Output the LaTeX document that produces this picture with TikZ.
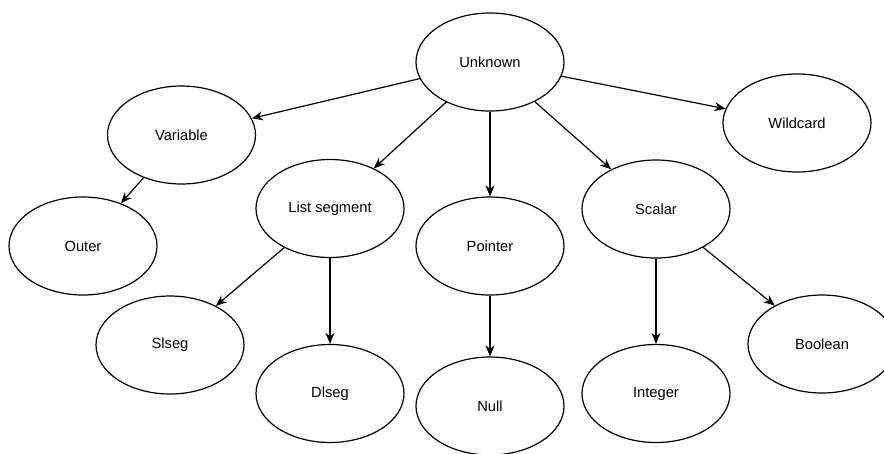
\documentclass[tikz,border=0pt]{standalone}
\usepackage{fontspec}
\setmainfont{Liberation Sans}
\usetikzlibrary{shapes.geometric,arrows.meta}

\tikzset{
  typenode/.style={ellipse, draw=black, line width=1.2pt, fill=white,
    minimum width=148pt, minimum height=98pt, inner sep=0pt,
    font=\fontsize{14.7}{17}\selectfont},
  edge/.style={draw=black, line width=1.2pt,
    -{Stealth[length=11pt,width=9pt,inset=3.5pt]}},
}

\begin{document}
\begin{tikzpicture}[x=1pt,y=-1pt]
  \useasboundingbox (0,0) rectangle (884,453);
  \clip (0,0) rectangle (884,453);

  % type hierarchy nodes
  \node[typenode] (unknown)  at (490,62)    {Unknown};
  \node[typenode] (variable) at (181.5,135) {Variable};
  \node[typenode] (wildcard) at (797,123)   {Wildcard};
  \node[typenode] (outer)    at (83,246)    {Outer};
  \node[typenode] (listseg)  at (330,208.5) {List segment};
  \node[typenode] (pointer)  at (490,246)   {Pointer};
  \node[typenode] (scalar)   at (656,209)   {Scalar};
  \node[typenode] (slseg)    at (170,345)   {Slseg};
  \node[typenode] (dlseg)    at (330,393.5) {Dlseg};
  \node[typenode] (null)     at (490,406)   {Null};
  \node[typenode] (integer)  at (656,393.5) {Integer};
  \node[typenode] (boolean)  at (822,344)   {Boolean};

  % subtype relations
  \draw[edge] (unknown) -- (variable);
  \draw[edge] (unknown) -- (wildcard);
  \draw[edge] (unknown) -- (listseg);
  \draw[edge] (unknown) -- (pointer);
  \draw[edge] (unknown) -- (scalar);
  \draw[edge] (variable) -- (outer);
  \draw[edge] (listseg) -- (slseg);
  \draw[edge] (listseg) -- (dlseg);
  \draw[edge] (pointer) -- (null);
  \draw[edge] (scalar) -- (integer);
  \draw[edge] (scalar) -- (boolean);
\end{tikzpicture}
\end{document}
